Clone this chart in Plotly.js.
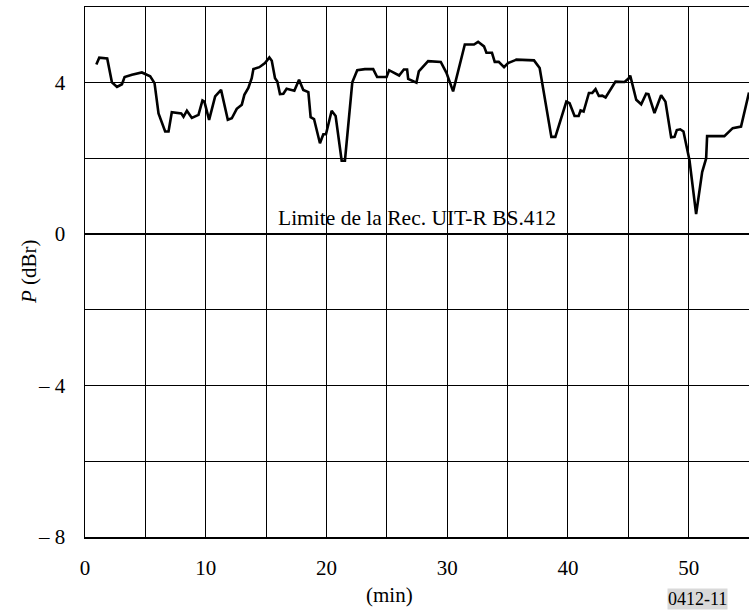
<!DOCTYPE html>
<html>
<head>
<meta charset="utf-8">
<script src="https://cdn.plot.ly/plotly-3.0.1.min.js"></script>
<style>html,body{margin:0;padding:0;background:#fff;}#chart{width:749px;height:610px;}</style>
</head>
<body>
<div id="chart"></div>
<script>
// Time (min)
var timeMin = [0.94,1.18,1.84,2.23,2.65,3.06,3.28,3.89,4.71,5.40,5.76,6.09,6.64,6.92,7.19,7.97,8.16,8.44,8.85,9.40,9.73,9.89,10.28,10.78,11.27,11.83,12.16,12.57,12.99,13.2,13.53,13.81,13.95,
  14.44,14.91,15.27,15.47,15.74,15.93,16.15,16.43,16.70,17.34,17.73,18.08,18.5,18.69,18.97,19.46,19.74,19.96,20.43,20.76,21.26,21.53,22.14,22.55,23.18,23.87,24.20,24.98,25.19,26.02,26.41,26.68,26.77,27.45,
  27.65,28.42,29.47,29.94,30.49,31.46,32.22,32.56,33.05,33.25,33.71,33.94,34.27,34.71,35.04,35.59,35.73,37.19,37.66,38.63,38.96,39.87,40.14,40.55,40.89,41.05,41.3,
  41.74,42.02,42.29,42.56,42.84,43.12,43.94,44.69,45.02,45.16,45.66,46.07,46.48,46.67,47.17,47.72,48.08,48.55,48.83,49.02,49.30,49.57,50.07,50.62,51.12,51.45,51.53,52.96,53.65,54.34,55.0];
// Level P (dBr)
var levelDBr = [4.48,4.66,4.64,4.01,3.89,3.96,4.15,4.21,4.27,4.17,3.99,3.19,2.71,2.71,3.22,3.19,3.10,3.26,3.07,3.15,3.53,3.50,3.02,3.64,3.81,3.02,3.06,3.31,3.42,3.68,3.86,4.12,4.36,
  4.41,4.52,4.67,4.58,4.12,4.03,3.70,3.71,3.84,3.79,4.08,3.81,3.75,3.09,3.04,2.40,2.64,2.64,3.26,3.12,1.94,1.94,4.01,4.33,4.36,4.36,4.15,4.15,4.33,4.19,4.35,4.35,4.10,4.0,
  4.30,4.57,4.55,4.26,3.77,5.01,5.01,5.08,4.96,4.79,4.79,4.55,4.55,4.41,4.52,4.59,4.61,4.59,4.39,2.57,2.57,3.50,3.46,3.12,3.12,3.27,3.24,
  3.73,3.73,3.83,3.65,3.66,3.61,4.03,4.02,4.11,4.19,3.55,3.43,3.71,3.70,3.20,3.67,3.50,2.56,2.57,2.75,2.77,2.71,1.95,0.53,1.64,2.00,2.59,2.59,2.80,2.84,3.74];

var xTickVals = [0,10,20,30,40,50];
var xTickText = ['0','10','20','30','40','50'];
var yTickVals = [-8,-4,0,4];
var yTickText = ['\u2013 8','\u2013 4','0','4'];
var limitLabel = 'Limite de la Rec. UIT-R BS.412';
var figureCode = '0412-11';

var serif = '"Liberation Serif", "Times New Roman", Times, serif';

var trace = {
  x: timeMin, y: levelDBr, type: 'scatter', mode: 'lines',
  line: {color: '#000', width: 2.6}, hoverinfo: 'skip', showlegend: false
};

var layout = {
  width: 749, height: 610,
  margin: {l: 85, r: 0, t: 7, b: 73, pad: 0},
  paper_bgcolor: '#fff', plot_bgcolor: '#fff',
  font: {family: serif, size: 21, color: '#000'},
  showlegend: false,
  xaxis: {
    range: [0, 55], tickvals: xTickVals, ticktext: xTickText,
    showgrid: true, gridcolor: '#000', gridwidth: 1,
    minor: {dtick: 5, tick0: 0, showgrid: true, gridcolor: '#000', gridwidth: 1},
    showline: true, linecolor: '#000', linewidth: 1.5, mirror: true,
    zeroline: false, ticks: '', ticklabelstandoff: 11,
    tickfont: {family: serif, size: 21, color: '#000'},
    fixedrange: true
  },
  yaxis: {
    range: [-8, 6], tickvals: yTickVals, ticktext: yTickText,
    showgrid: true, gridcolor: '#000', gridwidth: 1,
    minor: {dtick: 2, tick0: 0, showgrid: true, gridcolor: '#000', gridwidth: 1},
    showline: true, linecolor: '#000', linewidth: 1.5, mirror: true,
    zeroline: true, zerolinecolor: '#000', zerolinewidth: 2.2,
    ticks: '', ticklabelstandoff: 14,
    tickfont: {family: serif, size: 21, color: '#000'},
    fixedrange: true
  },
  annotations: [
    {text: limitLabel, xref: 'x', yref: 'y', x: 27.5, y: 0.05, yanchor: 'bottom', xanchor: 'center', showarrow: false,
     font: {family: serif, size: 21.5, color: '#000'}},
    {text: '<i>P</i> (dBr)', xref: 'paper', yref: 'paper', x: (29 - 85) / 664, y: 0.5, xanchor: 'center', yanchor: 'middle', textangle: -90, showarrow: false,
     font: {family: serif, size: 21, color: '#000'}},
    {text: '(min)', xref: 'paper', yref: 'paper', x: (389 - 85) / 664, y: -58 / 530, xanchor: 'center', yanchor: 'middle', showarrow: false,
     font: {family: serif, size: 21, color: '#000'}},
    {text: figureCode, xref: 'paper', yref: 'paper', x: (667 - 85) / 664, y: -(599 - 537) / 530, xanchor: 'left', yanchor: 'middle', showarrow: false,
     bgcolor: '#d9d9d9', borderpad: 0,
     font: {family: serif, size: 18, color: '#000'}}
  ]
};

Plotly.newPlot('chart', [trace], layout, {staticPlot: true, displayModeBar: false});
</script>
</body>
</html>
